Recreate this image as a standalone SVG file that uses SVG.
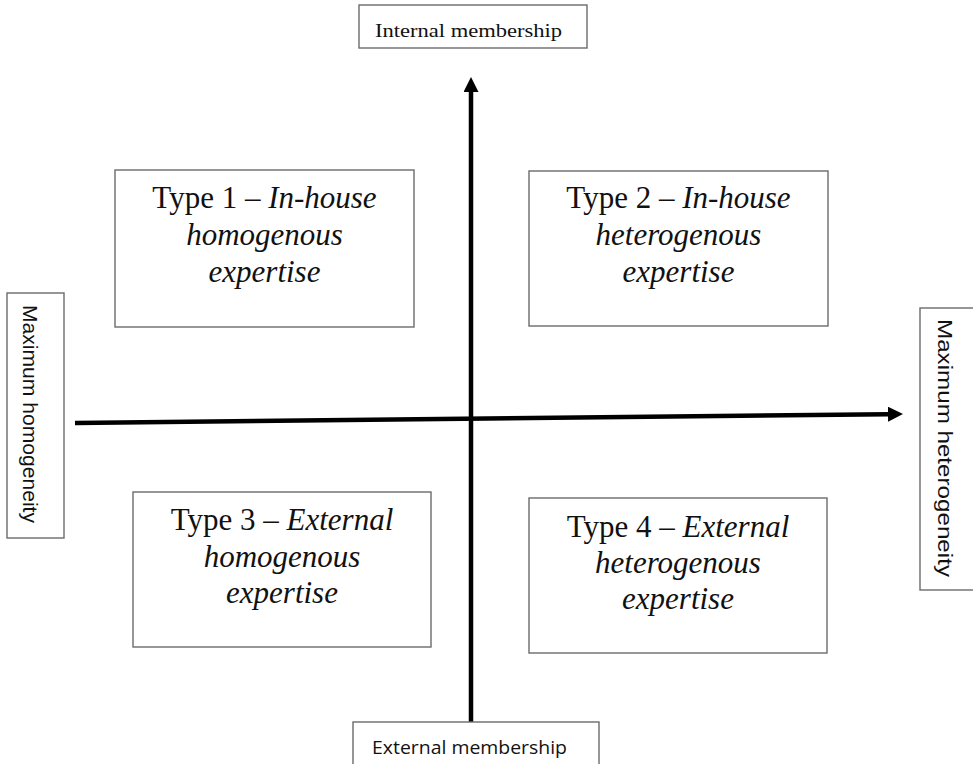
<svg xmlns="http://www.w3.org/2000/svg" width="973" height="764" viewBox="0 0 973 764">
<defs>
<style>
.box{fill:#fff;stroke:#6b6b6b;stroke-width:1.4}
.q{font-family:"Liberation Serif","Times New Roman",serif;font-size:31px;fill:#111;text-anchor:middle}
.i{font-style:italic}
.ax{stroke:#000;stroke-width:4.5;fill:none}
.ser{font-family:"Liberation Serif","Times New Roman",serif;font-size:19px;fill:#111;text-anchor:middle}
.sans{font-family:"Liberation Sans",Arial,sans-serif;font-size:20px;fill:#111;text-anchor:middle}
.cal{font-family:"Open Sans","Liberation Sans",sans-serif;font-size:18.5px;fill:#111;text-anchor:middle}
</style>
<marker id="ah" markerUnits="userSpaceOnUse" markerWidth="16" markerHeight="16" refX="0" refY="7.5" orient="auto">
<path d="M0,0 L15,7.5 L0,15 z" fill="#000"/>
</marker>
</defs>
<rect width="973" height="764" fill="#fff"/>
<g id="connectors">
<line class="ax" x1="75" y1="423" x2="888" y2="414.2" marker-end="url(#ah)"/>
<line class="ax" x1="471" y1="722" x2="471" y2="92" marker-end="url(#ah)"/>
</g>
<g id="internal">
<rect class="box" x="359" y="5" width="228" height="43"/>
<text class="ser" x="468.5" y="37" textLength="187" lengthAdjust="spacingAndGlyphs">Internal membership</text>
</g>
<g id="external">
<rect class="box" x="353" y="722" width="246" height="50"/>
<text class="cal" x="469.5" y="754" textLength="195" lengthAdjust="spacingAndGlyphs">External membership</text>
</g>
<g id="homogeneity">
<rect class="box" x="7" y="293" width="57" height="245"/>
<text class="sans" transform="translate(23,414) rotate(90)" x="0" y="0" textLength="218" lengthAdjust="spacingAndGlyphs">Maximum homogeneity</text>
</g>
<g id="heterogeneity">
<rect class="box" x="920" y="308" width="60" height="282"/>
<text class="sans" transform="translate(938,448) rotate(90)" x="0" y="0" textLength="258" lengthAdjust="spacingAndGlyphs">Maximum heterogeneity</text>
</g>
<g id="type1">
<rect class="box" x="115" y="170" width="299" height="157"/>
<text class="q" x="264.5" y="208">Type 1 – <tspan class="i">In-house</tspan></text>
<text class="q i" x="264.5" y="245">homogenous</text>
<text class="q i" x="264.5" y="282">expertise</text>
</g>
<g id="type2">
<rect class="box" x="529" y="171" width="299" height="155"/>
<text class="q" x="678.5" y="208">Type 2 – <tspan class="i">In-house</tspan></text>
<text class="q i" x="678.5" y="245">heterogenous</text>
<text class="q i" x="678.5" y="282">expertise</text>
</g>
<g id="type3">
<rect class="box" x="133" y="492" width="298" height="155"/>
<text class="q" x="282" y="530">Type 3 – <tspan class="i">External</tspan></text>
<text class="q i" x="282" y="567">homogenous</text>
<text class="q i" x="282" y="603">expertise</text>
</g>
<g id="type4">
<rect class="box" x="529" y="498" width="298" height="155"/>
<text class="q" x="678" y="537">Type 4 – <tspan class="i">External</tspan></text>
<text class="q i" x="678" y="573">heterogenous</text>
<text class="q i" x="678" y="609">expertise</text>
</g>
</svg>
